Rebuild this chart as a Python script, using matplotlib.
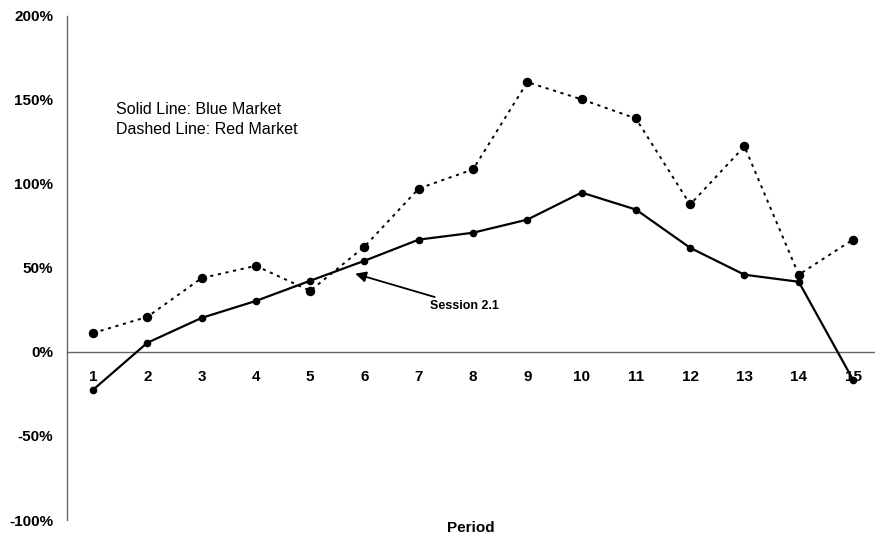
import matplotlib
matplotlib.use("Agg")
import matplotlib.pyplot as plt

periods = list(range(1, 16))
blue_market = [-22.5, 5.5, 20.3, 30.4, 42.4, 54.3, 66.9, 71.0, 78.8, 94.9, 84.8, 62.0, 46.0, 41.8, -16.5]
red_market = [11.3, 20.9, 44.0, 51.3, 36.4, 62.7, 97.3, 108.7, 160.6, 150.4, 139.0, 87.8, 122.4, 46.0, 66.9]
ytick_vals = [-100, -50, 0, 50, 100, 150, 200]
ytick_labels = ["-100%", "-50%", "0%", "50%", "100%", "150%", "200%"]

plt.rcParams['font.family'] = ['Liberation Sans', 'DejaVu Sans']

fig = plt.figure(figsize=(8.75, 5.41), dpi=100)
ax = fig.add_axes([67/875, 1-520/541, 1-67/875, (520-16)/541])

ax.plot(periods, red_market, color='black', linestyle=(0, (1.6, 2.4)), linewidth=1.4,
        marker='o', markersize=5.8, zorder=2)
ax.plot(periods, blue_market, color='black', linestyle='-', linewidth=1.6,
        marker='o', markersize=4.5, zorder=3)

ax.set_xlim(0.52, 15.405)
ax.set_ylim(-100, 200)

for s in ['top', 'right']:
    ax.spines[s].set_visible(False)
ax.spines['left'].set_color('#666666')
ax.spines['left'].set_linewidth(1.0)
ax.spines['bottom'].set_position(('data', 0))
ax.spines['bottom'].set_color('#666666')
ax.spines['bottom'].set_linewidth(1.0)

ax.set_xticks(periods)
ax.set_xticklabels([str(p) for p in periods], fontsize=11, fontweight='bold')
ax.tick_params(axis='x', length=0, pad=13)
ax.set_yticks(ytick_vals)
ax.set_yticklabels(ytick_labels, fontsize=11, fontweight='bold')
ax.tick_params(axis='y', length=0, pad=10)

fig.text(471/875, 1-528/541, "Period", fontsize=11, fontweight='bold', ha='center', va='center')

ax.text(1.42, 138.5, "Solid Line: Blue Market\nDashed Line: Red Market", fontsize=11.5,
        ha='left', va='center', linespacing=1.4)

ax.annotate("Session 2.1", xy=(5.83, 46.6), xytext=(7.21, 27.5),
            fontsize=9, fontweight='bold', ha='left', va='center',
            arrowprops=dict(arrowstyle='-|>', color='black', lw=1.3,
                            mutation_scale=16, shrinkA=0, shrinkB=0))

fig.savefig("out.png", dpi=100)
